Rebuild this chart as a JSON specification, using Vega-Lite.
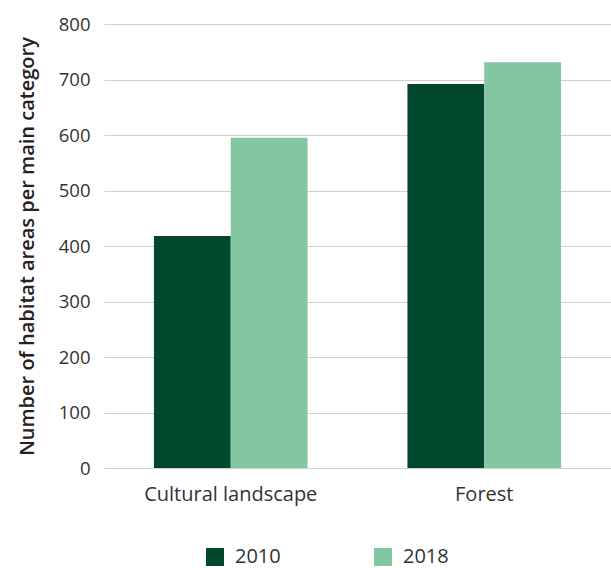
{
  "$schema": "https://vega.github.io/schema/vega-lite/v6.json",
  "autosize": "none",
  "width": 507,
  "height": 444,
  "padding": {"left": 104, "top": 24, "right": 0, "bottom": 100},
  "background": "white",
  "data": {"values": [
    {"category": "Cultural landscape", "year": "2010", "count": 418},
    {"category": "Cultural landscape", "year": "2018", "count": 595},
    {"category": "Forest", "year": "2010", "count": 692},
    {"category": "Forest", "year": "2018", "count": 731}
  ]},
  "mark": {"type": "bar"},
  "encoding": {
    "x": {"field": "category", "type": "nominal", "sort": null,
      "scale": {"paddingInner": 0.394, "paddingOuter": 0.197},
      "axis": {"title": null, "labelAngle": 0, "ticks": false, "domain": false, "labelPadding": 16, "labelFontSize": 20, "labelColor": "#333333", "labelFont": "Open Sans", "labelFontWeight": 400}},
    "xOffset": {"field": "year", "type": "nominal"},
    "y": {"field": "count", "type": "quantitative",
      "scale": {"domain": [0, 800]},
      "axis": {"title": "Number of habitat areas per main category", "values": [0,100,200,300,400,500,600,700,800], "ticks": false, "domain": false, "labelPadding": 14, "labelFontSize": 18.5, "labelColor": "#333333", "labelFont": "Open Sans", "labelFontWeight": 400, "titleFont": "Open Sans", "titleFontSize": 20, "titleFontWeight": 600, "titleColor": "#222222", "titlePadding": 21, "gridColor": "#d0d0d0", "gridWidth": 1.2}},
    "color": {"field": "year", "type": "nominal",
      "scale": {"domain": ["2010", "2018"], "range": ["#00492c", "#85c6a2"]},
      "legend": {"title": null, "orient": "none", "legendX": 101, "legendY": 523, "direction": "horizontal", "symbolType": "square", "symbolSize": 324, "symbolStrokeWidth": 0, "symbolOpacity": 1, "labelFontSize": 20, "labelFont": "Open Sans", "labelFontWeight": 400, "labelColor": "#333333", "labelOffset": 10, "columnPadding": 92}}
  },
  "config": {"view": {"stroke": null}}
}
